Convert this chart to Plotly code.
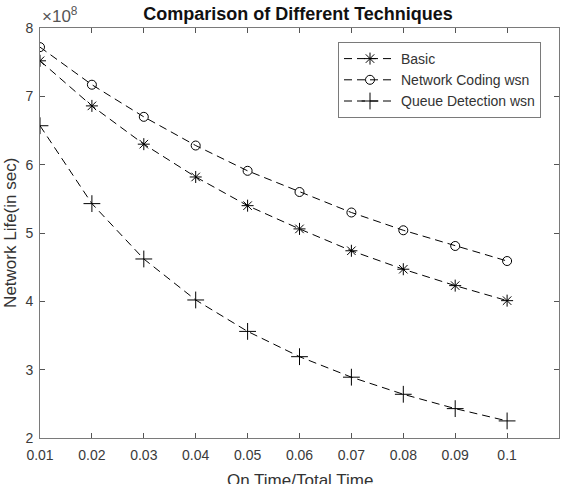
import plotly.graph_objects as go

x_vals = [0.01, 0.02, 0.03, 0.04, 0.05, 0.06, 0.07, 0.08, 0.09, 0.10]
basic = [7.52e8, 6.86e8, 6.30e8, 5.82e8, 5.40e8, 5.06e8, 4.74e8, 4.47e8, 4.23e8, 4.01e8]
network_coding = [7.72e8, 7.17e8, 6.70e8, 6.28e8, 5.91e8, 5.60e8, 5.30e8, 5.04e8, 4.81e8, 4.59e8]
queue_detection = [6.57e8, 5.43e8, 4.62e8, 4.02e8, 3.56e8, 3.19e8, 2.89e8, 2.64e8, 2.43e8, 2.25e8]

series_names = ["Basic", "Network Coding wsn", "Queue Detection wsn"]
x_ticks = [0.01, 0.02, 0.03, 0.04, 0.05, 0.06, 0.07, 0.08, 0.09, 0.10, 0.11]
x_tick_labels = ["0.01", "0.02", "0.03", "0.04", "0.05", "0.06", "0.07", "0.08", "0.09", "0.1", "0.11"]
y_ticks = [2e8, 3e8, 4e8, 5e8, 6e8, 7e8, 8e8]
y_tick_labels = ["2", "3", "4", "5", "6", "7", "8"]

FONT = "Liberation Sans, Arial, sans-serif"
fig = go.Figure()
for name, ys, sym, sz in zip(series_names, [basic, network_coding, queue_detection],
                             ["asterisk-open", "circle-open", "cross-thin-open"], [10, 9, 12]):
    fig.add_trace(go.Scatter(
        x=x_vals, y=ys, name=name, mode="lines+markers",
        line=dict(color="black", width=1, dash="8px,5px"),
        marker=dict(symbol=sym, size=sz, color="black", line=dict(color="black", width=1)),
    ))

axis_common = dict(
    showgrid=False, zeroline=False, showline=True, linecolor="#7a7a7a", linewidth=1,
    mirror="ticks", ticks="inside", ticklen=5, tickcolor="#555",
    tickfont=dict(family=FONT, size=14, color="#3a3a3a"),
)
fig.update_layout(
    width=572, height=484,
    margin=dict(l=40, r=13, t=28, b=46),
    paper_bgcolor="white", plot_bgcolor="white",
    xaxis=dict(range=[0.01, 0.11], tickvals=x_ticks, ticktext=x_tick_labels,
               ticklabelstandoff=4, **axis_common),
    yaxis=dict(range=[2e8, 8e8], tickvals=y_ticks, ticktext=y_tick_labels,
               ticklabelstandoff=3, **axis_common),
    showlegend=True,
    legend=dict(x=(338 - 40) / 519, y=(438 - 42) / 410, xanchor="left", yanchor="top",
                bordercolor="#7a7a7a", borderwidth=1, bgcolor="white",
                font=dict(family=FONT, size=14, color="#333"),
                tracegroupgap=0, itemsizing="trace", itemwidth=52),
    title=dict(text="<b>Comparison of Different Techniques</b>", x=(298 / 572), xanchor="center",
               y=1 - 14 / 484, yanchor="middle", yref="container",
               font=dict(family=FONT, size=18, color="#111")),
    annotations=[
        dict(text="×10<sup>8</sup>", xref="paper", yref="paper", x=0.0, y=1.0, xanchor="left",
             yanchor="bottom", showarrow=False, font=dict(family=FONT, size=17, color="#555")),
        dict(text="On Time/Total Time", xref="paper", yref="paper", x=0.5, y=-0.076,
             xanchor="center", yanchor="top", showarrow=False,
             font=dict(family=FONT, size=17, color="#333")),
        dict(text="Network Life(in sec)", xref="paper", yref="paper", x=-0.058, y=0.5,
             xanchor="center", yanchor="middle", textangle=-90, showarrow=False,
             font=dict(family=FONT, size=17, color="#333")),
    ],
)
fig.write_html("out.html")
